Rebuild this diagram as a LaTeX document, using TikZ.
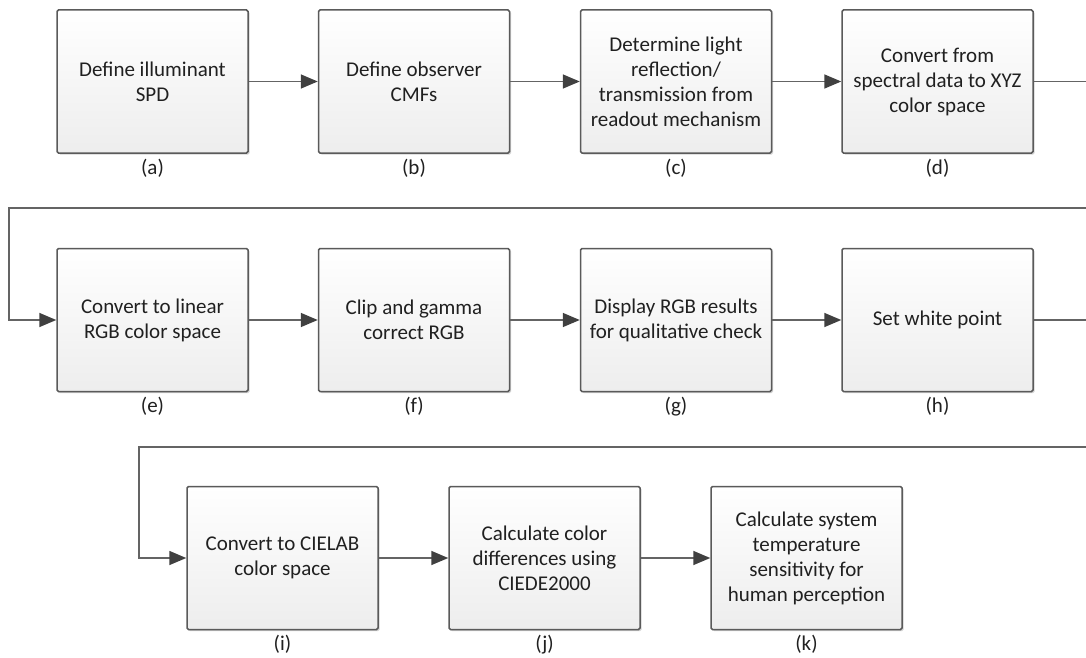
\documentclass[tikz,border=0pt]{standalone}
\usepackage{fontspec}
\setmainfont{Carlito}
\usetikzlibrary{arrows.meta,shadows}
\definecolor{boxline}{HTML}{5A5A5A}
\definecolor{conline}{HTML}{646464}
\definecolor{tipcol}{HTML}{404040}
\definecolor{txtcol}{HTML}{202020}
\tikzset{
  stepbox/.style={draw=boxline, line width=1.5pt, rounded corners=1.5pt,
    top color=white, bottom color=black!7, minimum width=191pt, minimum height=143pt,
    align=center, text=txtcol, inner sep=0pt,
    font=\fontsize{21}{25}\selectfont,
    drop shadow={shadow xshift=1.5pt, shadow yshift=-1.5pt, fill=black!50, opacity=0.35}},
  lbl/.style={text=txtcol, inner sep=0pt, font=\fontsize{21}{25}\selectfont},
  conn/.style={draw=conline, line width=1.6pt,
    -{Triangle[length=17pt,width=14pt,fill=tipcol,color=tipcol]}},
  plain/.style={draw=conline, line width=1.6pt}
}
\begin{document}
\begin{tikzpicture}[x=1pt,y=-1pt]
\clip (0,0) rectangle (1086,658);
\fill[white] (0,0) rectangle (1086,658);
% row 1
\node[stepbox, label={[lbl, label distance=5pt]below:(a)}] (a) at (152.5,81.5) {Define illuminant\\SPD};
\node[stepbox, label={[lbl, label distance=5pt]below:(b)}] (b) at (414,81.5) {Define observer\\CMFs};
\node[stepbox, label={[lbl, label distance=5pt]below:(c)}] (c) at (676,81.5) {Determine light\\reflection/\\transmission from\\readout mechanism};
\node[stepbox, label={[lbl, label distance=5pt]below:(d)}] (d) at (937.5,81.5) {Convert from\\spectral data to XYZ\\color space};
% row 2
\node[stepbox, label={[lbl, label distance=5pt]below:(e)}] (e) at (152.5,320) {Convert to linear\\RGB color space};
\node[stepbox, label={[lbl, label distance=5pt]below:(f)}] (f) at (414,320) {Clip and gamma\\correct RGB};
\node[stepbox, label={[lbl, label distance=5pt]below:(g)}] (g) at (676,320) {Display RGB results\\for qualitative check};
\node[stepbox, label={[lbl, label distance=5pt]below:(h)}] (h) at (937.5,320) {Set white point};
% row 3
\node[stepbox, label={[lbl, label distance=5pt]below:(i)}] (i) at (282.5,558) {Convert to CIELAB\\color space};
\node[stepbox, label={[lbl, label distance=5pt]below:(j)}] (j) at (544.5,558) {Calculate color\\differences using\\CIEDE2000};
\node[stepbox, label={[lbl, label distance=5pt]below:(k)}] (k) at (806.5,558) {Calculate system\\temperature\\sensitivity for\\human perception};
% connectors
\draw[conn] (a) -- (b);
\draw[conn] (b) -- (c);
\draw[conn] (c) -- (d);
\draw[conn] (e) -- (f);
\draw[conn] (f) -- (g);
\draw[conn] (g) -- (h);
\draw[conn] (i) -- (j);
\draw[conn] (j) -- (k);
\coordinate (w1a) at (1100,81.5);
\coordinate (w1b) at (1100,208);
\coordinate (w1c) at (9,208);
\coordinate (w1d) at (9,320);
\draw[conn, rounded corners=0pt] (d.east) -- (w1a) -- (w1b) -- (w1c) -- (w1d) -- (e.west);
\coordinate (w2a) at (1100,320);
\coordinate (w2b) at (1100,447);
\coordinate (w2c) at (139,447);
\coordinate (w2d) at (139,558);
\draw[conn] (h.east) -- (w2a) -- (w2b) -- (w2c) -- (w2d) -- (i.west);
\end{tikzpicture}
\end{document}
